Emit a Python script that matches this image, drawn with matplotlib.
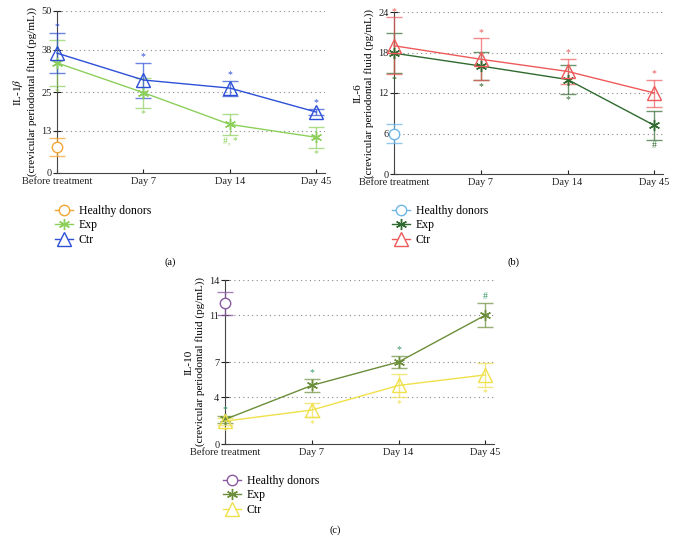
import matplotlib
matplotlib.use("Agg")
import matplotlib.pyplot as plt
from matplotlib.colors import to_rgba
from matplotlib.lines import Line2D

plt.rcParams["font.family"] = ["Liberation Serif", "DejaVu Serif"]
plt.rcParams["mathtext.fontset"] = "stix"

# ── Data ───────────────────────────────────────────────────────────────────────
DAYS = ["Before treatment", "Day 7", "Day 14", "Day 45"]

# (a) IL-1β
A_HEALTHY, A_HEALTHY_ERR = 8.0, 2.8
A_EXP = [34.0, 24.8, 15.0, 11.0]
A_EXP_ERR = [7.0, 4.6, 3.2, 3.2]
A_CTR = [37.0, 28.7, 26.2, 18.8]
A_CTR_ERR = [6.2, 5.4, 2.3, 1.0]
A_EXP_NOTE = ["*", "*", "#, *", "*"]
A_CTR_NOTE = ["*", "*", "*", "*"]
A_TICKS = [0, 13, 25, 38, 50]

# (b) IL-6
B_HEALTHY, B_HEALTHY_ERR = 6.0, 1.35
B_EXP = [17.9, 16.0, 14.0, 7.2]
B_EXP_ERR = [3.0, 2.1, 2.1, 2.1]
B_CTR = [19.0, 17.0, 15.2, 12.0]
B_CTR_ERR = [4.2, 3.1, 1.9, 2.0]
B_EXP_NOTE = ["*", "*", "*", "#"]
B_CTR_NOTE = ["*", "*", "*", "*"]
B_TICKS = [0, 6, 12, 18, 24]

# (c) IL-10
C_HEALTHY, C_HEALTHY_ERR = 12.0, 1.0
C_EXP = [2.1, 5.0, 7.0, 11.0]
C_EXP_ERR = [0.3, 0.55, 0.55, 1.05]
C_CTR = [1.95, 2.9, 5.0, 5.9]
C_CTR_ERR = [0.3, 0.6, 1.0, 1.0]
C_EXP_NOTE = ["*", "*", "*", "#"]
C_CTR_NOTE = ["*", "*", "*", "*"]
C_TICKS = [0, 4, 7, 11, 14]

W, H = 675, 542


def px_axes(fig, left, top, right, bottom):
    return fig.add_axes([left / W, 1 - bottom / H, (right - left) / W, (bottom - top) / H])


def draw_panel(ax, ylabel, ticks, healthy, healthy_err, exp, exp_err, ctr, ctr_err,
               exp_note, ctr_note, colors, note_colors, exp_note_above):
    x = list(range(len(DAYS)))
    c_h, c_e, c_c = colors
    span = ticks[-1]
    eb = dict(capsize=6, elinewidth=1, capthick=1, clip_on=False)

    ax.errorbar([0], [healthy], yerr=[healthy_err], color=c_h, marker="o", ms=7.5,
                mfc="white", mew=1.0, ecolor=to_rgba(c_h, 0.75), zorder=4, **eb)
    ax.errorbar(x, exp, yerr=exp_err, color=c_e, marker=(6, 2, 0), ms=8, mew=1.0,
                lw=1.0, ecolor=to_rgba(c_e, 0.7), zorder=3, **eb)
    ax.errorbar(x, ctr, yerr=ctr_err, color=c_c, marker="^", ms=10, mfc="none",
                mew=1.0, lw=1.0, ecolor=to_rgba(c_c, 0.7), zorder=3, **eb)

    for xi, v, e, s in zip(x, exp, exp_err, exp_note):
        if exp_note_above:
            ax.text(xi, v + e + span * 0.01, s, color=note_colors[0], fontsize=7,
                    ha="center", va="bottom")
        else:
            ax.text(xi, v - e - span * 0.01, s, color=note_colors[0], fontsize=7,
                    ha="center", va="top")
    for xi, v, e, s in zip(x, ctr, ctr_err, ctr_note):
        if exp_note_above:
            ax.text(xi, v - e - span * 0.01, s, color=note_colors[1], fontsize=7,
                    ha="center", va="top")
        else:
            ax.text(xi, v + e + span * 0.01, s, color=note_colors[1], fontsize=7,
                    ha="center", va="bottom")

    ax.set_xlim(0, 3.1)
    ax.set_ylim(0, span)
    ax.set_xticks(x)
    ax.set_xticklabels(DAYS, fontsize=7.5)
    ax.set_yticks(ticks)
    ax.set_yticklabels([str(t) for t in ticks], fontsize=7.5)
    for t in ticks[1:]:
        ax.axhline(t, color="#888888", lw=0.8, ls=(0, (1, 3)), zorder=0)
    ax.spines["top"].set_visible(False)
    ax.spines["right"].set_visible(False)
    for s in ("left", "bottom"):
        ax.spines[s].set_color("#444444")
        ax.spines[s].set_linewidth(0.8)
    ax.tick_params(axis="y", direction="inout", length=6, width=0.8, pad=1,
                   colors="#222222")
    ax.tick_params(axis="x", direction="in", length=3, width=0.8, pad=3,
                   colors="#222222")
    ax.set_ylabel(ylabel, fontsize=8, linespacing=1.2, labelpad=3)


def add_legend(fig, colors, x0, y0):
    c_h, c_e, c_c = colors
    handles = [
        Line2D([], [], color=c_h, marker="o", ms=7.5, mfc="white", lw=1),
        Line2D([], [], color=c_e, marker=(6, 2, 0), ms=8, lw=1),
        Line2D([], [], color=c_c, marker="^", ms=10, mfc="white", lw=1),
    ]
    fig.legend(handles, ["Healthy donors", "Exp", "Ctr"], loc="upper left",
               bbox_to_anchor=(x0 / W, 1 - y0 / H), frameon=False, fontsize=8.5,
               handlelength=1.5, handletextpad=0.5, labelspacing=0.2,
               borderpad=0, borderaxespad=0)


fig = plt.figure(figsize=(6.75, 5.42), dpi=100)

A_COLORS = ("#f4a535", "#8ccf5a", "#2d50d6")
B_COLORS = ("#6fb6e6", "#2f6a2f", "#ee5a5a")
C_COLORS = ("#8a5aa0", "#6b8e3a", "#f0e04a")

ax_a = px_axes(fig, 57, 11, 325, 173)
draw_panel(ax_a, "IL-1$\\beta$\n(crevicular periodontal fluid (pg/mL))", A_TICKS,
           A_HEALTHY, A_HEALTHY_ERR, A_EXP, A_EXP_ERR, A_CTR, A_CTR_ERR,
           A_EXP_NOTE, A_CTR_NOTE, A_COLORS, ("#8ccf5a", "#2d50d6"), False)

ax_b = px_axes(fig, 394, 12, 663, 174)
draw_panel(ax_b, "IL-6\n(crevicular periodontal fluid (pg/mL))", B_TICKS,
           B_HEALTHY, B_HEALTHY_ERR, B_EXP, B_EXP_ERR, B_CTR, B_CTR_ERR,
           B_EXP_NOTE, B_CTR_NOTE, B_COLORS, ("#2f6a2f", "#ee5a5a"), False)

ax_c = px_axes(fig, 225, 280, 494, 444)
draw_panel(ax_c, "IL-10\n(crevicular periodontal fluid (pg/mL))", C_TICKS,
           C_HEALTHY, C_HEALTHY_ERR, C_EXP, C_EXP_ERR, C_CTR, C_CTR_ERR,
           C_EXP_NOTE, C_CTR_NOTE, C_COLORS, ("#3a9a6a", "#f0e04a"), True)

add_legend(fig, A_COLORS, 55, 205)
add_legend(fig, B_COLORS, 392, 205)
add_legend(fig, C_COLORS, 223, 475)

fig.text(170 / W, 1 - 262 / H, "(a)", ha="center", va="center", fontsize=7.5)
fig.text(513 / W, 1 - 262 / H, "(b)", ha="center", va="center", fontsize=7.5)
fig.text(335 / W, 1 - 530 / H, "(c)", ha="center", va="center", fontsize=7.5)

fig.savefig("out.png", dpi=100, facecolor="white")
